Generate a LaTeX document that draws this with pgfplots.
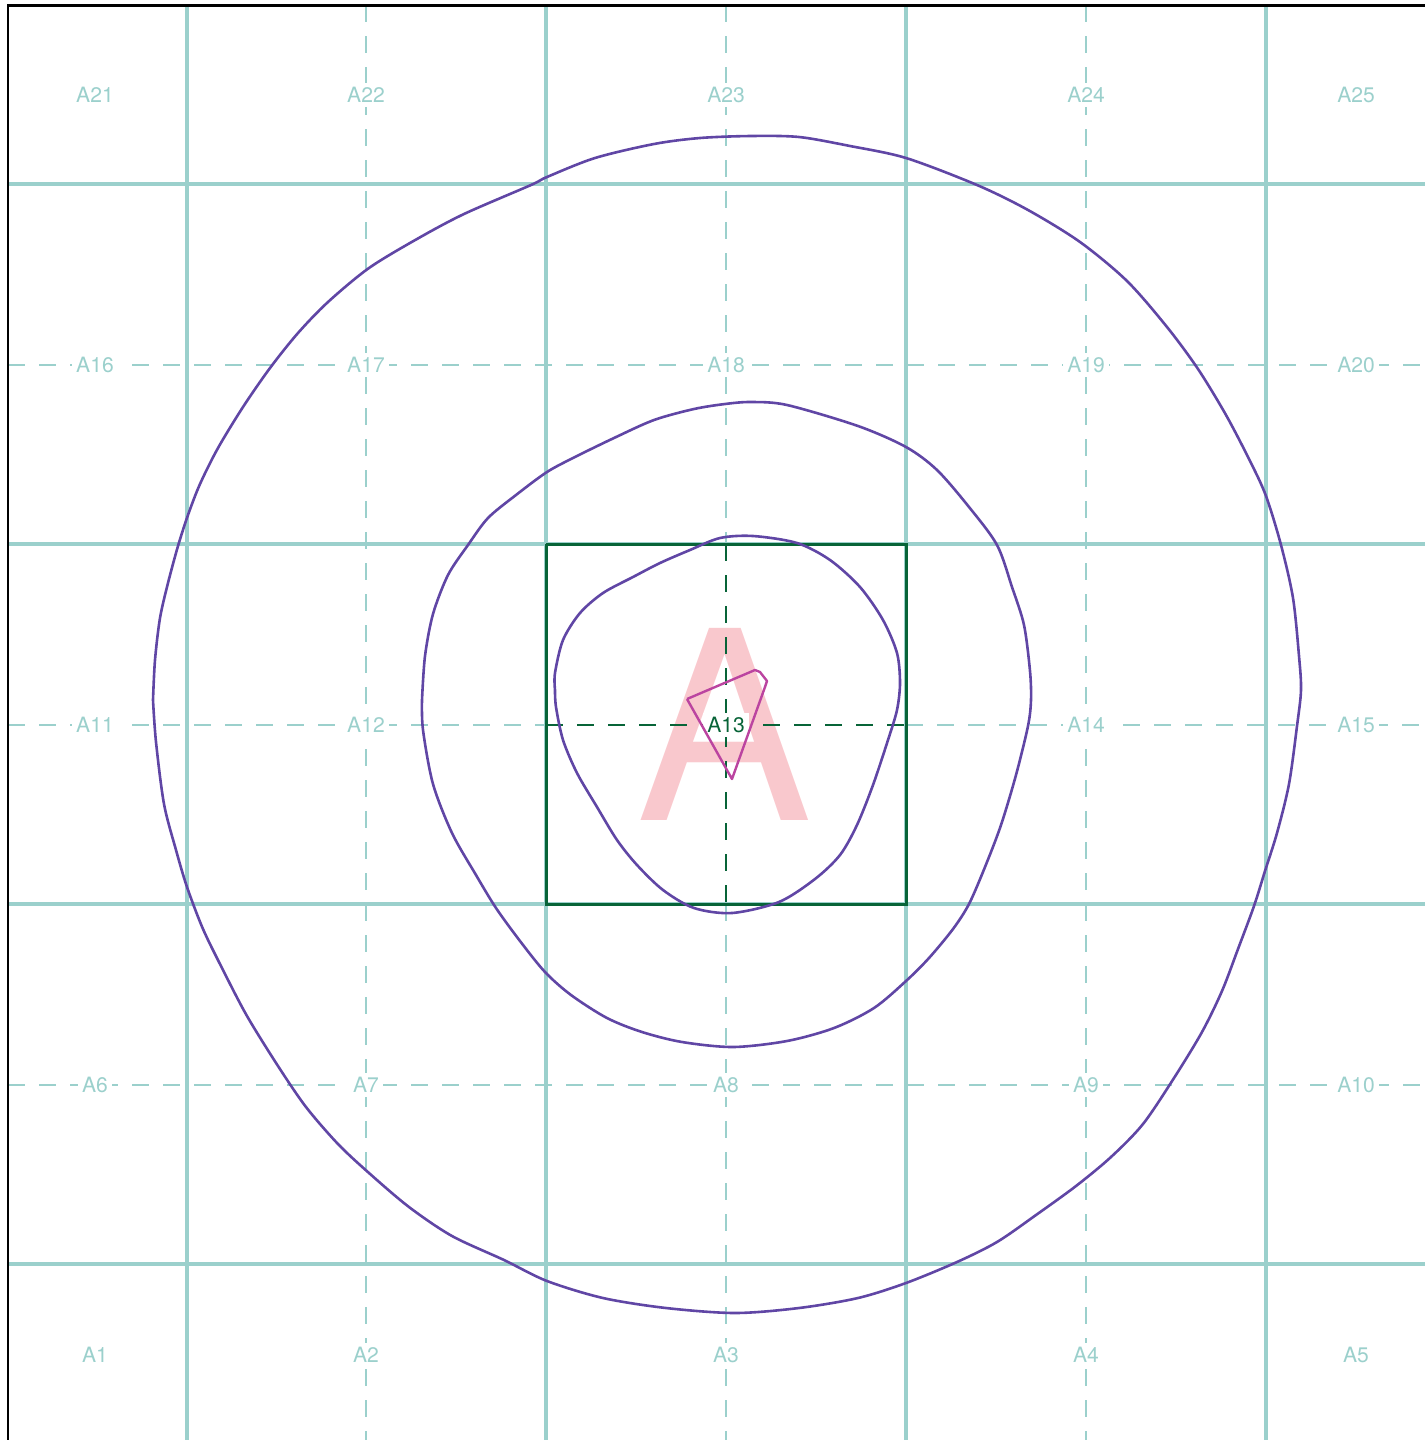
\documentclass[border=0pt]{standalone}
\usepackage{pgfplots}
\pgfplotsset{compat=1.18}
\usepackage{fontspec}
\setmainfont{TeX Gyre Heros}
\definecolor{gridc}{RGB}{155,208,204}
\definecolor{contc}{RGB}{96,70,165}
\definecolor{dkgreen}{RGB}{8,100,56}
\definecolor{pinkA}{RGB}{249,200,205}
\definecolor{magc}{RGB}{187,68,160}
\begin{document}
\begin{tikzpicture}
\begin{axis}[
  width=14.25cm, height=14.4cm, scale only axis,
  xmin=0, xmax=1425, ymin=0, ymax=1440, y dir=reverse,
  hide axis, clip=true,
  solidgrid/.style={gridc, line width=0.034cm},
  dashgrid/.style={gridc, line width=0.014cm, dash pattern=on 0.17cm off 0.14cm},
  greendash/.style={dkgreen, line width=0.014cm, dash pattern=on 0.17cm off 0.14cm},
  cont/.style={contc, line width=0.026cm, smooth, tension=0.5, line join=round},
]
% dashed centre lines
\addplot[dashgrid] coordinates {(8,365)(1425,365)};
\addplot[dashgrid] coordinates {(8,1085)(1425,1085)};
\addplot[dashgrid] coordinates {(8,725)(546,725)};
\addplot[dashgrid] coordinates {(906,725)(1425,725)};
\addplot[dashgrid] coordinates {(366,5)(366,1440)};
\addplot[dashgrid] coordinates {(1086,5)(1086,1440)};
\addplot[dashgrid] coordinates {(726,5)(726,544)};
\addplot[dashgrid] coordinates {(726,904)(726,1440)};
% solid grid
\addplot[solidgrid] coordinates {(187,5)(187,1440)};
\addplot[solidgrid] coordinates {(546,5)(546,1440)};
\addplot[solidgrid] coordinates {(906,5)(906,1440)};
\addplot[solidgrid] coordinates {(1266,5)(1266,1440)};
\addplot[solidgrid] coordinates {(8,184)(1425,184)};
\addplot[solidgrid] coordinates {(8,544)(1425,544)};
\addplot[solidgrid] coordinates {(8,904)(1425,904)};
\addplot[solidgrid] coordinates {(8,1264)(1425,1264)};
% frame
\addplot[black, line width=0.03cm, line join=miter] coordinates {(8,1440)(8,5.7)(1425,5.7)};
% cell labels
\begin{scope}[every node/.style={text=gridc, fill=white, inner sep=0.045cm, font=\fontsize{6}{7}\selectfont}]
\node at (axis cs:95,95) {A21};
\node at (axis cs:366,95) {A22};
\node at (axis cs:726,95) {A23};
\node at (axis cs:1086,95) {A24};
\node at (axis cs:1356,95) {A25};
\node at (axis cs:95,365) {A16};
\node at (axis cs:366,365) {A17};
\node at (axis cs:726,365) {A18};
\node at (axis cs:1086,365) {A19};
\node at (axis cs:1356,365) {A20};
\node at (axis cs:95,725) {A11};
\node at (axis cs:366,725) {A12};
\node at (axis cs:1086,725) {A14};
\node at (axis cs:1356,725) {A15};
\node at (axis cs:95,1085) {A6};
\node at (axis cs:366,1085) {A7};
\node at (axis cs:726,1085) {A8};
\node at (axis cs:1086,1085) {A9};
\node at (axis cs:1356,1085) {A10};
\node at (axis cs:95,1355) {A1};
\node at (axis cs:366,1355) {A2};
\node at (axis cs:726,1355) {A3};
\node at (axis cs:1086,1355) {A4};
\node at (axis cs:1356,1355) {A5};
\end{scope}
% highlighted cell
\node[text=pinkA, inner sep=0, anchor=base, font=\fontsize{75}{75}\selectfont] at (axis cs:724.5,820) {A};
\addplot[greendash] coordinates {(546,725)(906,725)};
\addplot[greendash] coordinates {(726,544)(726,904)};
\addplot[dkgreen, line width=0.03cm, line join=miter] coordinates {(546,544)(906,544)(906,904)(546,904)(546,544)};
\node[text=dkgreen, fill=white, inner sep=0.045cm, font=\fontsize{6}{7}\selectfont] at (axis cs:726,725) {A13};
% contours
\addplot[cont] coordinates {
(153,700)(155,660)(160,618)(168,583)(178,546)(188,515)(200,484)(218,448)(243,407)(270,368)(298,333)(328,302)(369,268)(417,239)(464,214)(531,185)(547,177)(595,158)(654,144)(700,138)(751,136)(799,137)(850,146)(906,158)(977,185)(1028,210)(1080,242)(1127,281)(1167,327)(1198,369)(1226,415)(1250,461)(1266,496)(1281,545)(1293,598)(1299,656)(1301,690)(1297,726)(1289,784)(1277,833)(1265,871)(1254,906)(1238,949)(1222,991)(1202,1032)(1174,1078)(1143,1124)(1111,1157)(1076,1186)(1036,1215)(997,1242)(957,1262)(906,1283)(858,1298)(799,1308)(735,1313)(666,1308)(603,1298)(547,1281)(504,1260)(452,1236)(409,1207)(369,1173)(338,1144)(306,1107)(278,1066)(247,1016)(223,970)(203,929)(187,887)(176,850)(164,804)(156,742)(153,700)};
\addplot[cont] coordinates {
(422,700)(425,656)(433,614)(448,575)(468,545)(488,518)(516,495)(547,472)(575,457)(614,438)(654,420)(694,409)(725,404)(751,402)(787,405)(858,426)(906,447)(937,470)(969,507)(997,545)(1012,587)(1024,625)(1030,671)(1031,700)(1028,726)(1016,775)(1001,825)(985,867)(969,904)(953,929)(929,958)(906,981)(874,1008)(834,1028)(787,1041)(733,1047)(682,1042)(642,1032)(607,1018)(571,995)(545,972)(520,941)(496,908)(476,875)(452,833)(433,784)(423,730)(422,700)};
\addplot[cont] coordinates {
(555,690)(555,673)(563,640)(580,613)(603,593)(633,577)(660,563)(690,550)(720,538)(753,536)(797,543)(830,560)(860,587)(883,620)(897,653)(900,683)(897,710)(888,740)(873,785)(857,825)(840,855)(815,879)(779,902)(732,913)(694,908)(663,890)(637,865)(617,840)(597,807)(577,773)(563,740)(556,707)(555,690)};
% polygon
\addplot[magc, line width=0.024cm, line join=round] coordinates {(687,699)(755,670)(760,672)(767,681)(765,687)(732,779)(687,699)};
\end{axis}
\pgfresetboundingbox
\path (current axis.south west) rectangle (current axis.north east);
\end{tikzpicture}
\end{document}
